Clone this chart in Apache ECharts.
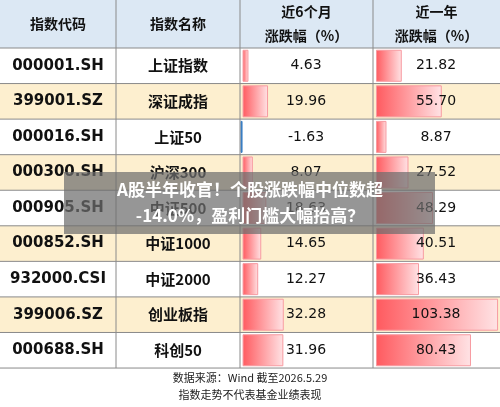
<!DOCTYPE html>
<html><head><meta charset="utf-8">
<script src="https://cdn.jsdelivr.net/npm/echarts@6/dist/echarts.min.js"></script>
<style>html,body{margin:0;padding:0;background:#fff}#c{width:500px;height:407px}</style>
</head><body><div id="c"></div>
<script>
const codes=['000001.SH','399001.SZ','000016.SH','000300.SH','000905.SH','000852.SH','932000.CSI','399006.SZ','000688.SH'];
const names=['上证指数','深证成指','上证50','沪深300','中证500','中证1000','中证2000','创业板指','科创50'];
const m6=[4.63,19.96,-1.63,8.07,18.63,14.65,12.27,32.28,31.96];
const y1=[21.82,55.70,8.87,27.52,48.29,40.51,36.43,103.38,80.43];
const headers=['指数代码','指数名称','近6个月\n涨跌幅（%）','近一年\n涨跌幅（%）'];
const footer=['数据来源：Wind 截至2026.5.29','指数走势不代表基金业绩表现'];
const title='A股半年收官！个股涨跌幅中位数超\n-14.0%，盈利门槛大幅抬高？';

const chart=echarts.init(document.getElementById('c'),null,{renderer:'canvas'});
const top0=48,rh=35.56,colX=[0,116,240,373,500];
const font='"Noto Sans CJK SC"';
const g=[];
g.push({type:'rect',shape:{x:0,y:0,width:500,height:top0},style:{fill:'#dce8f4'},z:0});
codes.forEach((c,i)=>{
  g.push({type:'rect',shape:{x:0,y:top0+i*rh,width:500,height:rh},style:{fill:i%2?'#fdefcf':'#fff'},z:0});
});
headers.forEach((h,j)=>{
  g.push({type:'text',x:(colX[j]+colX[j+1])/2,y:24,style:{text:h,fill:'#111',font:'bold 14px '+font,align:'center',verticalAlign:'middle',lineHeight:24},z:5});
});
codes.forEach((c,i)=>{
  const cy=top0+(i+0.5)*rh;
  g.push({type:'text',x:58,y:cy,style:{text:c,fill:'#111',font:'bold 15px "DejaVu Sans"',align:'center',verticalAlign:'middle'},z:5});
  g.push({type:'text',x:178,y:cy,style:{text:names[i],fill:'#111',font:'bold 15px '+font,align:'center',verticalAlign:'middle'},z:5});
  g.push({type:'text',x:306,y:cy,style:{text:m6[i].toFixed(2),fill:'#111',font:'14px "DejaVu Sans"',align:'center',verticalAlign:'middle'},z:5});
  g.push({type:'text',x:436,y:cy,style:{text:y1[i].toFixed(2),fill:'#111',font:'14px "DejaVu Sans"',align:'center',verticalAlign:'middle'},z:5});
});
// grid lines
for(let i=0;i<=9;i++){const y=top0+i*rh;g.push({type:'line',shape:{x1:0,y1:y,x2:500,y2:y},style:{stroke:'#8a8a8a',lineWidth:1},z:4});}
colX.slice(1,4).forEach(x=>g.push({type:'line',shape:{x1:x,y1:0,x2:x,y2:top0+9*rh},style:{stroke:'#8a8a8a',lineWidth:1},z:4}));
footer.forEach((f,k)=>g.push({type:'text',x:250,y:378+k*17,style:{text:f,fill:'#222',font:'11px '+font,align:'center',verticalAlign:'middle'},z:5}));
g.push({type:'rect',shape:{x:64,y:172,width:371,height:62},style:{fill:'rgba(110,110,110,0.72)'},z:20});
g.push({type:'text',x:250,y:203,style:{text:title,fill:'#fff',font:'bold 17px '+font,align:'center',verticalAlign:'middle',lineHeight:26},z:21});

const grad={type:'linear',x:0,y:0,x2:1,y2:0,colorStops:[{offset:0,color:'#ff5a5f'},{offset:1,color:'#ffe3e5'}]};
const mk=(d)=>d.map(v=>({value:v,itemStyle:v<0?{color:'#3a7fc4',borderColor:'#3a7fc4'}:{}}));
const yAx=(gi)=>({type:'category',gridIndex:gi,data:codes,inverse:true,show:false});
const xAx=(gi,min,max)=>({type:'value',gridIndex:gi,min,max,show:false});
chart.setOption({
  animation:false,
  grid:[{left:240,width:130.2,top:top0,height:9*rh},{left:376,width:124,top:top0,height:9*rh}],
  xAxis:[xAx(0,-2,100),xAx(1,0,105)],
  yAxis:[yAx(0),yAx(1)],
  graphic:g,
  series:[
    {type:'bar',xAxisIndex:0,yAxisIndex:0,data:mk(m6),barWidth:32,z:3,itemStyle:{color:grad,borderColor:'#f79aa0',borderWidth:1}},
    {type:'bar',xAxisIndex:1,yAxisIndex:1,data:mk(y1),barWidth:32,z:3,itemStyle:{color:grad,borderColor:'#f79aa0',borderWidth:1}}
  ]
});
</script></body></html>
